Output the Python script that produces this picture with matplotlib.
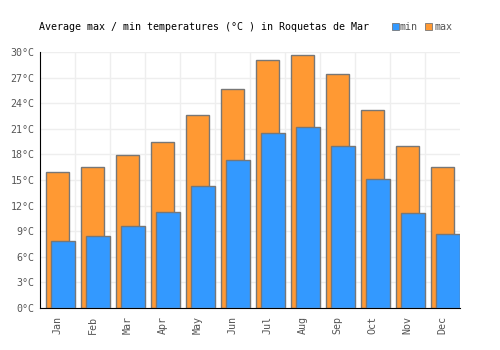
import matplotlib
matplotlib.use("Agg")
import numpy as np
from matplotlib import pyplot as plt
from matplotlib.patches import Rectangle

# monthly averages
months = ["Jan", "Feb", "Mar", "Apr", "May", "Jun", "Jul", "Aug", "Sep", "Oct", "Nov", "Dec"]
t_max = [15.9, 16.5, 17.9, 19.4, 22.6, 25.7, 29.1, 29.7, 27.4, 23.2, 19.0, 16.5]
t_min = [7.8, 8.4, 9.6, 11.3, 14.3, 17.3, 20.5, 21.2, 19.0, 15.1, 11.1, 8.7]
yticks = list(range(0, 31, 3))

blue = "#3399ff"
orange = "#ff9933"
edge = "#777777"
mono = "DejaVu Sans Mono"
fs = 7.2

fig = plt.figure(figsize=(5, 3.5), dpi=100)
ax = fig.add_axes([0.08, 0.12, 0.84, 0.7314])

x = np.arange(len(months))
# max bars behind, min bars in front shifted right
ax.bar(x - 0.01, t_max, width=0.66, color=orange, edgecolor=edge, linewidth=1, zorder=2)
ax.bar(x + 0.15, t_min, width=0.69, color=blue, edgecolor=edge, linewidth=1, zorder=3)

ax.set_xlim(-0.5, len(months) - 0.5)
ax.set_ylim(0, 30)
ax.set_yticks(yticks)
ax.set_yticklabels([f"{v}°C" for v in yticks], family=mono, fontsize=fs, color="#555555")
ax.set_xticks(x)
ax.set_xticklabels(months, rotation=90, family=mono, fontsize=fs, color="#555555")
ax.set_xticks(x[:-1] + 0.5, minor=True)
ax.tick_params(which="both", length=0)
ax.tick_params(axis="y", pad=4)
ax.tick_params(axis="x", pad=6)

ax.grid(axis="y", color="#eeeeee", linewidth=1, zorder=0)
ax.grid(axis="x", which="minor", color="#eeeeee", linewidth=1, zorder=0)
ax.set_axisbelow(True)

for s in ["top", "right"]:
    ax.spines[s].set_visible(False)
ax.spines["left"].set_color("black")
ax.spines["bottom"].set_color("black")

# title and legend at the top
fig.text(0.408, 0.922, "Average max / min temperatures (°C ) in Roquetas de Mar",
         ha="center", va="center", family=mono, fontsize=fs, color="black")
fig.patches.append(Rectangle((0.783, 0.914), 0.014, 0.019, transform=fig.transFigure,
                             facecolor=blue, edgecolor=edge, linewidth=0.6))
fig.text(0.8, 0.922, "min", ha="left", va="center", family=mono, fontsize=fs, color="#555555")
fig.patches.append(Rectangle((0.85, 0.914), 0.014, 0.019, transform=fig.transFigure,
                             facecolor=orange, edgecolor=edge, linewidth=0.6))
fig.text(0.869, 0.922, "max", ha="left", va="center", family=mono, fontsize=fs, color="#555555")

fig.savefig("out.png", dpi=100)
